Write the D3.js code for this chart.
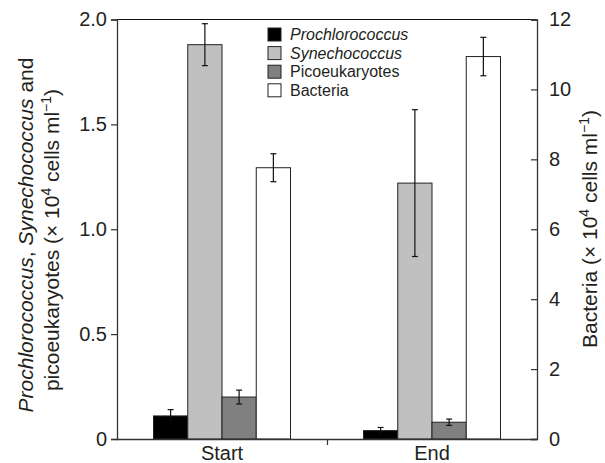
<!DOCTYPE html>
<html lang="en">
<head>
<meta charset="UTF-8">
<title>Picoplankton abundance</title>
<script src="https://d3js.org/d3.v7.min.js"></script>
<style>
  body { margin: 0; background: #fff; }
  text { font-family: "Liberation Sans", Arial, sans-serif; fill: #231f20; }
</style>
</head>
<body>
<div id="chart"></div>
<script>
// data
const groups = ['Start', 'End'];
const series = ['Prochlorococcus', 'Synechococcus', 'Picoeukaryotes', 'Bacteria'];
const italicSeries = ['Prochlorococcus', 'Synechococcus'];
const colors = ['#000000', '#c0c0c0', '#808080', '#ffffff'];
// values per series for Start, End (bacteria on the right axis)
const prochlorococcus = [0.11, 0.04];
const synechococcus = [1.88, 1.22];
const picoeukaryotes = [0.20, 0.08];
const bacteria = [7.76, 10.94];
const prochlorococcusErr = [0.03, 0.015];
const synechococcusErr = [0.10, 0.35];
const picoeukaryotesErr = [0.033, 0.015];
const bacteriaErr = [0.40, 0.55];
const leftTicks = [0, 0.5, 1.0, 1.5, 2.0];
const rightTicks = [0, 2, 4, 6, 8, 10, 12];

const W = 605, H = 463;
const margin = { top: 19.5, right: 68, bottom: 24, left: 117 };
const x0 = margin.left, x1 = W - margin.right;
const yTop = margin.top, yBot = H - margin.bottom;

const svg = d3.select('#chart').append('svg')
  .attr('width', W).attr('height', H);

const xGroup = d3.scalePoint().domain(groups).range([x0, x1]).padding(0.5);
const xSeries = d3.scaleBand().domain(series).range([-68.5, 68.5]).padding(0);
const yLeft = d3.scaleLinear().domain([0, 2]).range([yBot, yTop]);
const yRight = d3.scaleLinear().domain([0, 12]).range([yBot, yTop]);

const vals = [prochlorococcus, synechococcus, picoeukaryotes, bacteria];
const errs = [prochlorococcusErr, synechococcusErr, picoeukaryotesErr, bacteriaErr];

const rows = [];
groups.forEach((g, gi) => {
  series.forEach((s, si) => {
    rows.push({ group: g, series: s, color: colors[si], value: vals[si][gi], err: errs[si][gi],
      y: s === 'Bacteria' ? yRight : yLeft });
  });
});

// bars
svg.append('g').selectAll('rect')
  .data(rows)
  .join('rect')
  .attr('x', d => xGroup(d.group) + xSeries(d.series))
  .attr('width', xSeries.bandwidth())
  .attr('y', d => d.y(d.value))
  .attr('height', d => yBot - d.y(d.value))
  .attr('fill', d => d.color)
  .attr('stroke', '#222')
  .attr('stroke-width', 1);

// error bars
const eb = svg.append('g').attr('stroke', '#111').attr('stroke-width', 1.2);
rows.forEach(d => {
  const cx = xGroup(d.group) + xSeries(d.series) + xSeries.bandwidth() / 2;
  const top = d.y(d.value + d.err), bot = d.y(d.value - d.err);
  eb.append('line').attr('x1', cx).attr('x2', cx).attr('y1', top).attr('y2', bot);
  eb.append('line').attr('x1', cx - 3).attr('x2', cx + 3).attr('y1', top).attr('y2', top);
  eb.append('line').attr('x1', cx - 3).attr('x2', cx + 3).attr('y1', bot).attr('y2', bot)
    .attr('stroke', d.color === '#000000' ? 'none' : '#111');
});

// frame: top line
svg.append('line').attr('x1', x0).attr('x2', x1).attr('y1', yTop).attr('y2', yTop)
  .attr('stroke', '#111').attr('stroke-width', 1.2);

// left axis
const gL = svg.append('g').attr('transform', `translate(${x0},0)`)
  .call(d3.axisLeft(yLeft).tickValues(leftTicks).tickSize(6).tickPadding(4)
    .tickFormat(d => d === 0 ? '0' : d3.format('.1f')(d)));
// right axis (ticks point inward)
const gR = svg.append('g').attr('transform', `translate(${x1},0)`)
  .call(d3.axisRight(yRight).tickValues(rightTicks).tickSize(-6).tickPadding(12));
// bottom axis
const gB = svg.append('g').attr('transform', `translate(0,${yBot})`)
  .call(d3.axisBottom(d3.scaleLinear().domain([0, 1]).range([x0, x1]))
    .tickValues([0.5]).tickSize(6).tickFormat(''));

[gL, gR, gB].forEach(g => {
  g.select('.domain').attr('stroke', '#333').attr('stroke-width', 1.3);
  g.selectAll('.tick line').attr('stroke', '#333').attr('stroke-width', 1.2);
  g.selectAll('.tick text').style('font-size', '20px').attr('fill', '#231f20')
    .style('font-family', '"Liberation Sans", Arial, sans-serif');
});
gB.select('.domain').attr('d', `M${x0},0.5H${x1}`);

// group labels
svg.append('g').selectAll('text')
  .data(groups)
  .join('text')
  .attr('x', d => xGroup(d))
  .attr('y', 460)
  .attr('text-anchor', 'middle')
  .style('font-size', '20px')
  .text(d => d);

// left axis title
const lt = svg.append('text')
  .attr('transform', 'translate(33,235) rotate(-90)')
  .attr('text-anchor', 'middle')
  .style('font-size', '21px');
lt.append('tspan').style('font-style', 'italic').text('Prochlorococcus');
lt.append('tspan').text(', ');
lt.append('tspan').style('font-style', 'italic').text('Synechococcus');
lt.append('tspan').text(' and');
const lt2 = svg.append('text')
  .attr('transform', 'translate(59,240) rotate(-90)')
  .attr('text-anchor', 'middle')
  .style('font-size', '21px');
lt2.append('tspan').text('picoeukaryotes (\u00d7 10');
lt2.append('tspan').attr('dy', -8).style('font-size', '14px').text('4');
lt2.append('tspan').attr('dy', 8).text(' cells ml');
lt2.append('tspan').attr('dy', -8).style('font-size', '14px').text('\u22121');
lt2.append('tspan').attr('dy', 8).text(')');

// right axis title
const rt = svg.append('text')
  .attr('transform', 'translate(597,229) rotate(-90)')
  .attr('text-anchor', 'middle')
  .style('font-size', '21px');
rt.append('tspan').text('Bacteria (\u00d7 10');
rt.append('tspan').attr('dy', -8).style('font-size', '14px').text('4');
rt.append('tspan').attr('dy', 8).text(' cells ml');
rt.append('tspan').attr('dy', -8).style('font-size', '14px').text('\u22121');
rt.append('tspan').attr('dy', 8).text(')');

// legend
const leg = svg.append('g').attr('transform', 'translate(268,28)');
const items = leg.selectAll('g').data(series).join('g')
  .attr('transform', (d, i) => `translate(0,${i * 18.6})`);
items.append('rect').attr('width', 13).attr('height', 13)
  .attr('fill', (d, i) => colors[i]).attr('stroke', '#222').attr('stroke-width', 1);
items.append('text').attr('x', 22).attr('y', 12)
  .style('font-size', '16px')
  .style('font-style', d => italicSeries.includes(d) ? 'italic' : 'normal')
  .text(d => d);
</script>
</body>
</html>
